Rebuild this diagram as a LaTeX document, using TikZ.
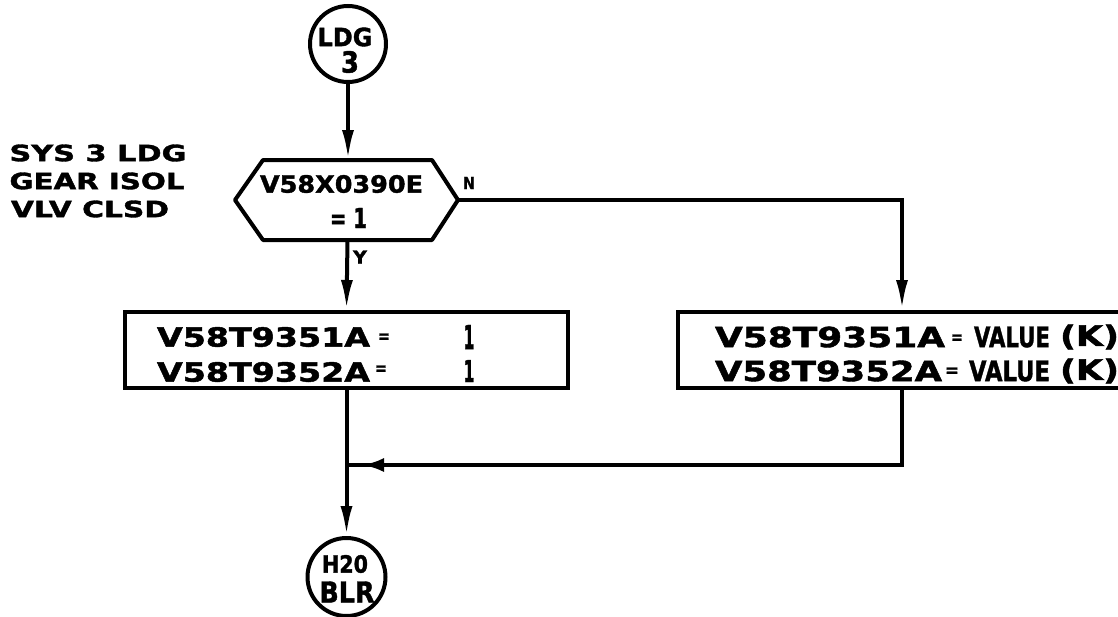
\documentclass[tikz,border=0pt]{standalone}
\usepackage{fontspec}
\usepackage{graphicx}
\newfontfamily\hand[FakeBold=1.5]{DejaVu Sans Bold}
\usetikzlibrary{arrows.meta,calc}
\newcommand{\fitt}[3]{\resizebox*{#1pt}{#2pt}{\hand #3}}
\begin{document}
\begin{tikzpicture}[x=1pt,y=-1pt,
  line width=4pt,
  txt/.style={inner sep=0pt,anchor=center},
  conn/.style={circle,draw,minimum size=76pt,inner sep=0pt},
  procbox/.style={rectangle,draw,minimum height=76pt,inner sep=0pt},
  arr/.style={-{Latex[length=30pt,width=12pt]}},
  marr/.style={-{Latex[length=22pt,width=14pt]}}]
\useasboundingbox (0,0) rectangle (1118,616);
\clip (0,0) rectangle (1118,616);
\fill[white] (0,0) rectangle (1118,616);

% top connector
\node[conn] (c1) at (348,44) {};
\node[txt] (c1a) at (345,37) {\fitt{55}{19}{LDG}};
\node[txt] (c1b) at (350,62) {\fitt{18}{22}{3}};

% side note
\node[txt] (n1) at (98,153) {\fitt{177}{17}{SYS 3 LDG}};
\node[txt] (n2) at (97,181) {\fitt{175}{17}{GEAR ISOL}};
\node[txt] (n3) at (90,209) {\fitt{158}{17}{VLV CLSD}};

% decision
\node[minimum width=165pt,minimum height=76pt,inner sep=0pt] (dec) at (347.5,200) {};
\coordinate (decL) at (235,200);
\coordinate (decR) at (458,200);
\draw[line join=round] (dec.north west) -- (dec.north east) -- (decR) -- (dec.south east) -- (dec.south west) -- (decL) -- cycle;
\node[txt] (d1) at (341.5,184) {\fitt{163}{18}{V58X0390E}};
\node[txt] (d2) at (348.5,218) {\fitt{37}{20}{= 1}};
\node[txt] (lN) at (469,183) {\fitt{12}{12}{N}};
\node[txt] (lY) at (360,257) {\fitt{14}{13}{Y}};

% process boxes
\node[procbox,minimum width=443pt] (lb) at (346.5,350) {};
\node[txt,anchor=west] (lb1) at (155,337) {\fitt{213}{20}{V58T9351A}};
\node[txt] (lb1e) at (384,338) {\fitt{12}{9}{=}};
\node[txt] (lb1v) at (469,337) {\fitt{11}{24}{1}};
\node[txt,anchor=west] (lb2) at (155,372) {\fitt{213}{20}{V58T9352A}};
\node[txt] (lb2e) at (381,370) {\fitt{12}{9}{=}};
\node[txt] (lb2v) at (469,371) {\fitt{11}{22}{1}};

\node[procbox,minimum width=448pt] (rb) at (902,350) {};
\node[txt,anchor=west] (rb1) at (713,337) {\fitt{230}{21}{V58T9351A}};
\node[txt] (rb1e) at (957,339) {\fitt{12}{9}{=}};
\node[txt,anchor=west] (rb1v) at (972,337) {\fitt{76}{21}{VALUE}};
\node[txt,anchor=west] (rb1k) at (1058,337) {\fitt{59}{25}{(K)}};
\node[txt,anchor=west] (rb2) at (713,371) {\fitt{227}{21}{V58T9352A}};
\node[txt] (rb2e) at (952,372) {\fitt{14}{9}{=}};
\node[txt,anchor=west] (rb2v) at (967,371) {\fitt{81}{21}{VALUE}};
\node[txt,anchor=west] (rb2k) at (1058,371) {\fitt{59}{25}{(K)}};

% bottom connector
\node[conn,minimum size=78pt] (c2) at (346.5,577) {};
\node[txt] (c2a) at (345,564) {\fitt{46}{18}{H20}};
\node[txt] (c2b) at (347,592) {\fitt{55}{21}{BLR}};

% connectors
\draw[arr] (c1.south) -- (c1.south |- dec.north);
\draw[arr] (dec.south) -- (lb.north);
\draw[arr] (decR) -| (rb.north);
\coordinate (jn) at (346.5,465);
\coordinate (mt) at (362,465);
\coordinate (ms) at (400,465);
\draw (rb.south) |- (jn);
\draw[marr] (ms) -- (mt);
\draw[arr] (lb.south) -- (c2.north);
\end{tikzpicture}
\end{document}
